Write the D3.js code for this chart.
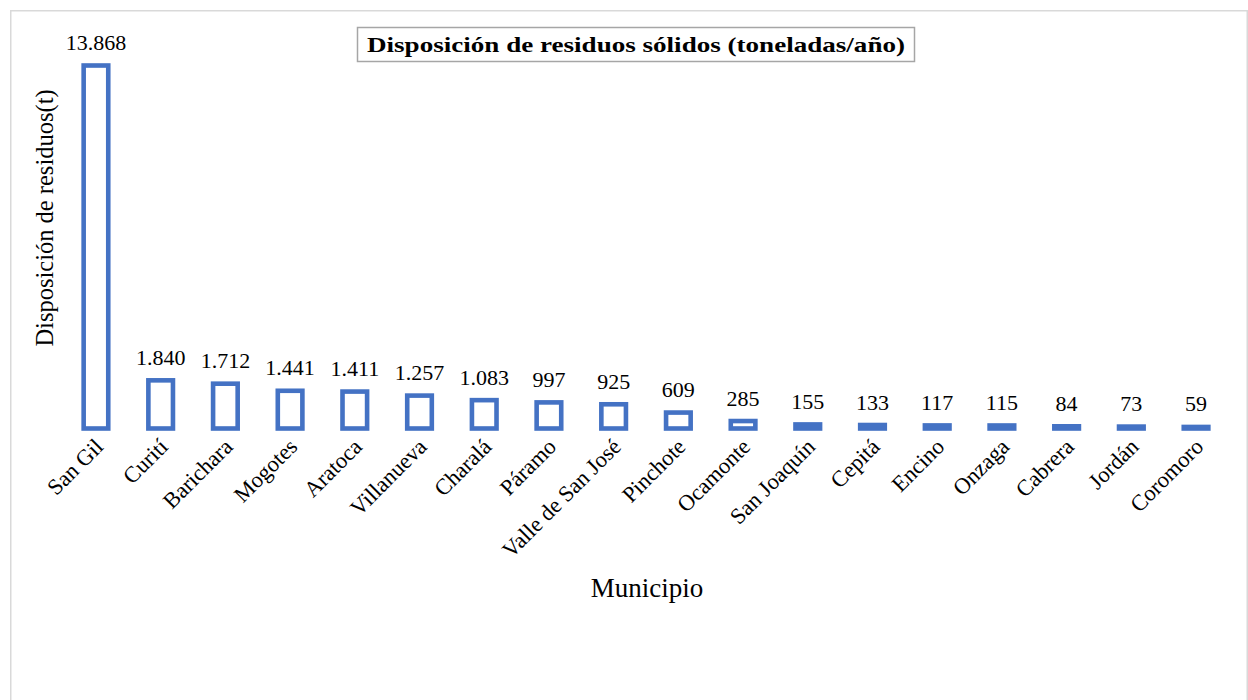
<!DOCTYPE html>
<html>
<head>
<meta charset="utf-8">
<script src="https://cdn.jsdelivr.net/npm/d3@7"></script>
<style>
  html, body { margin: 0; padding: 0; background: #fff; }
  svg { display: block; }
  text { font-family: "Liberation Serif", "Times New Roman", serif; fill: #000; }
</style>
</head>
<body>
<svg id="chart" width="1248" height="700"></svg>
<script>
const categories = ["San Gil", "Curití", "Barichara", "Mogotes", "Aratoca", "Villanueva", "Charalá", "Páramo", "Valle de San José", "Pinchote", "Ocamonte", "San Joaquín", "Cepitá", "Encino", "Onzaga", "Cabrera", "Jordán", "Coromoro"];
const values = [13868, 1840, 1712, 1441, 1411, 1257, 1083, 997, 925, 609, 285, 155, 133, 117, 115, 84, 73, 59];
const titleText = "Disposición de residuos sólidos (toneladas/año)";
const yTitle = "Disposición de residuos(t)";
const xTitle = "Municipio";

const svg = d3.select("#chart");
const blue = "#4472C4";

// outer chart border
svg.append("rect")
  .attr("x", 10.75).attr("y", 10.75)
  .attr("width", 1236.5).attr("height", 720)
  .attr("fill", "#fff").attr("stroke", "#d9d9d9").attr("stroke-width", 1.5);

const x = d3.scaleBand()
  .domain(categories)
  .range([63.6, 1228.4])
  .paddingInner(0.62)
  .paddingOuter(0.31);

const y = d3.scaleLinear().domain([0, 16000]).range([428.5, 9.7]);

const loc = d3.formatLocale({ decimal: ",", thousands: ".", grouping: [3], currency: ["$", ""] });
const fmt = loc.format(",d");

const data = categories.map((c, i) => ({ c, v: values[i] }));

svg.append("g").selectAll("rect")
  .data(data).join("rect")
  .attr("x", d => x(d.c))
  .attr("y", d => y(d.v))
  .attr("width", x.bandwidth())
  .attr("height", d => y(0) - y(d.v))
  .attr("fill", "none")
  .attr("stroke", blue)
  .attr("stroke-width", 4.6);

svg.append("g").selectAll("text")
  .data(data).join("text")
  .attr("x", d => x(d.c) + x.bandwidth() / 2)
  .attr("y", d => y(d.v) - 15.5)
  .attr("text-anchor", "middle")
  .style("font-size", "22px")
  .text(d => fmt(d.v));

// x axis (labels only)
const xAxis = d3.axisBottom(x).tickSize(0).tickPadding(0);
const gx = svg.append("g").attr("transform", `translate(0,${y(0)})`).call(xAxis);
gx.select(".domain").remove();
gx.attr("font-size", null).attr("font-family", null);
gx.selectAll(".tick text")
  .style("font-family", "'Liberation Serif', 'Times New Roman', serif")
  .style("font-size", "22.5px")
  .attr("fill", "#000")
  .attr("text-anchor", "end")
  .attr("dy", "0.35em")
  .attr("y", 0)
  .attr("transform", "translate(3,14) rotate(-45)");

// title box
const tb = svg.append("g");
tb.append("rect")
  .attr("x", 357.5).attr("y", 27.5).attr("width", 557).attr("height", 34)
  .attr("fill", "#fff").attr("stroke", "#a6a6a6").attr("stroke-width", 1.5);
tb.append("text")
  .attr("x", 636).attr("y", 52)
  .attr("text-anchor", "middle")
  .style("font-size", "21.5px").attr("font-weight", "bold")
  .attr("textLength", 538).attr("lengthAdjust", "spacingAndGlyphs")
  .text(titleText);

// y title
svg.append("text")
  .attr("transform", "translate(53,218) rotate(-90)")
  .attr("text-anchor", "middle")
  .style("font-size", "24.5px")
  .text(yTitle);

// x title
svg.append("text")
  .attr("x", 647).attr("y", 597)
  .attr("text-anchor", "middle")
  .style("font-size", "27px")
  .text(xTitle);
</script>
</body>
</html>
